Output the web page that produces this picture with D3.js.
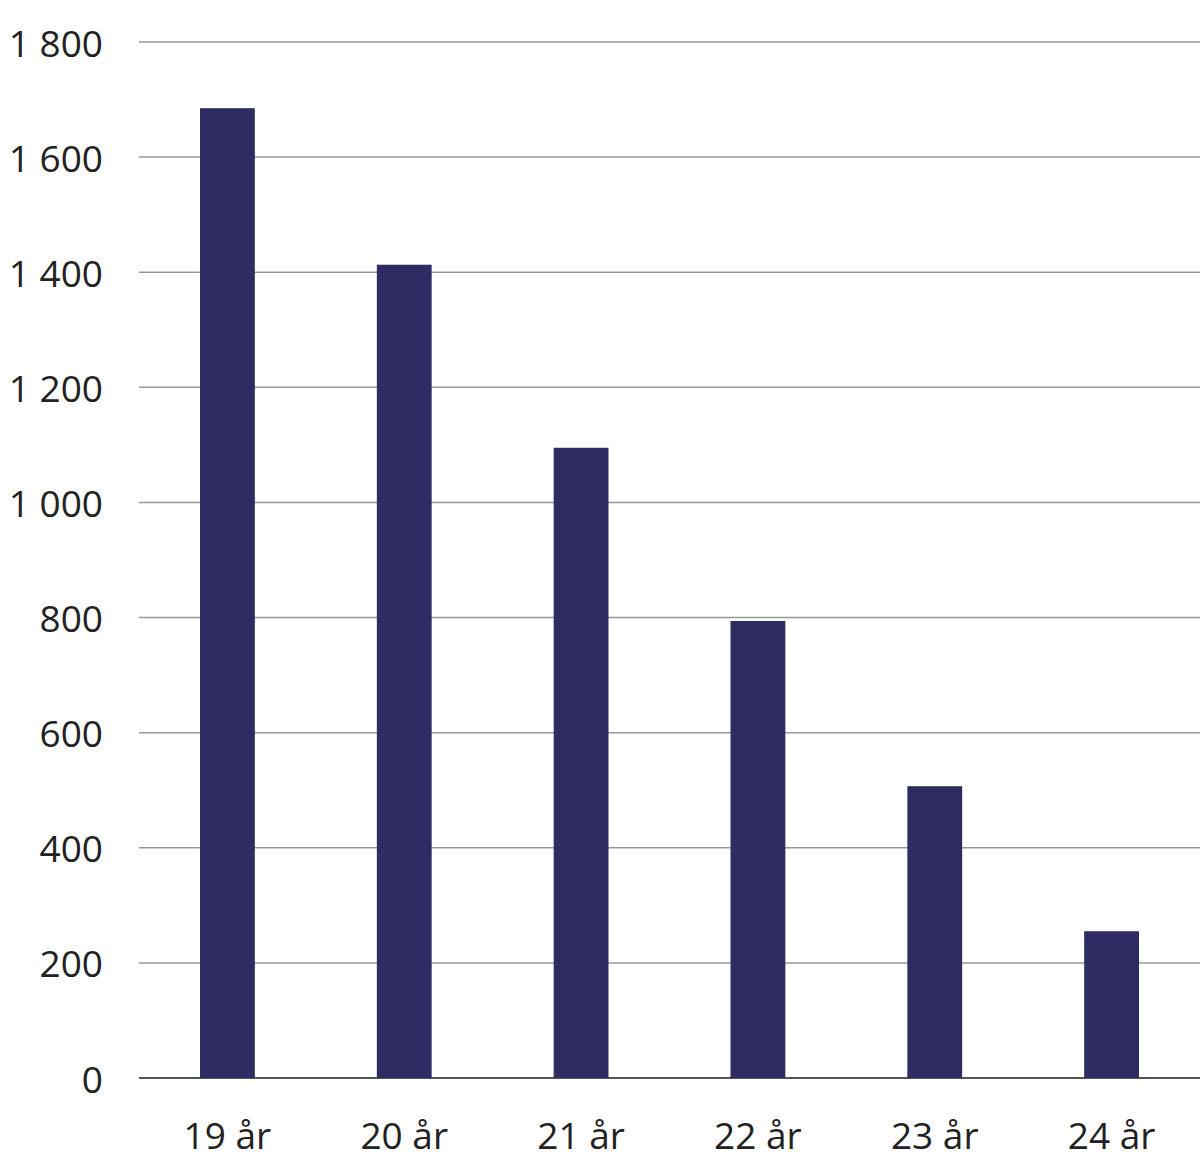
<!DOCTYPE html>
<html><head><meta charset="utf-8">
<script src="https://cdn.jsdelivr.net/npm/d3@7"></script>
<style>body{margin:0;background:#fff}</style>
</head><body>
<svg id="chart" width="1200" height="1174"></svg>
<script>
const categories = ["19 år", "20 år", "21 år", "22 år", "23 år", "24 år"];
const values = [1685, 1413, 1095, 794, 507, 255];
const yTicks = [0, 200, 400, 600, 800, 1000, 1200, 1400, 1600, 1800];

const margin = {left: 139, right: 0, top: 42, bottom: 96};
const width = 1200, height = 1174;
const svg = d3.select('#chart');
const font = "'Open Sans', 'Noto Sans', sans-serif";

const x = d3.scaleBand().domain(categories)
    .range([margin.left, width - margin.right])
    .paddingInner(0.69).paddingOuter(0.345);
const y = d3.scaleLinear().domain([0, 1800])
    .range([height - margin.bottom, margin.top]);

const fmt = v => v >= 1000 ? d3.format(',')(v).replace(',', '\u2009') : String(v);

// gridlines
svg.selectAll('.grid').data(yTicks).join('line')
    .attr('x1', margin.left).attr('x2', width)
    .attr('y1', d => y(d)).attr('y2', d => y(d))
    .style('stroke', d => d === 0 ? '#555' : '#999')
    .style('stroke-width', d => d === 0 ? 2 : 1.5);

// y labels
svg.selectAll('.ylab').data(yTicks).join('text')
    .attr('x', 103).attr('y', d => y(d))
    .attr('text-anchor', 'end').attr('dominant-baseline', 'central')
    .style('font-family', font).style('font-size', '37px').style('fill', '#222')
    .text(d => fmt(d).replace('\u2009', ' '));

// bars
svg.selectAll('.bar').data(values).join('rect')
    .attr('x', (d, i) => x(categories[i]))
    .attr('width', x.bandwidth())
    .attr('y', d => y(d))
    .attr('height', d => y(0) - y(d))
    .style('fill', '#2e2c63');

// x labels
svg.selectAll('.xlab').data(categories).join('text')
    .attr('x', d => x(d) + x.bandwidth() / 2)
    .attr('y', 1134)
    .attr('text-anchor', 'middle').attr('dominant-baseline', 'central')
    .style('font-family', font).style('font-size', '37px').style('fill', '#222')
    .text(d => d);
</script>
</body></html>
